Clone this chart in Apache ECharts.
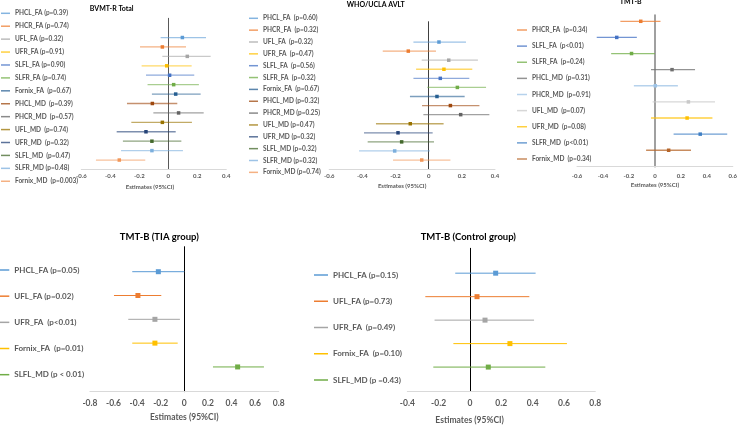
<!DOCTYPE html>
<html>
<head>
<meta charset="utf-8">
<script src="https://cdn.jsdelivr.net/npm/echarts@6/dist/echarts.min.js"></script>
<style>
  html, body { margin: 0; padding: 0; background: #fff; }
  #panel { width: 740px; height: 426px; }
</style>
</head>
<body>
<div id="panel"></div>
<script>
// BVMT-R Total
const bvmtLabels = ["PHCL_FA (p=0.39)", "PHCR_FA (p=0.74)", "UFL_FA (p=0.32)", "UFR_FA (p=0.91)", "SLFL_FA (p=0.90)",
  "SLFR_FA (p=0.74)", "Fornix_FA  (p=0.67)", "PHCL_MD  (p=0.39)", "PHCR_MD  (p=0.57)", "UFL_MD  (p=0.74)",
  "UFR_MD  (p=0.32)", "SLFL_MD  (p=0.47)", "SLFR_MD (p=0.48)", "Fornix_MD  (p=0.003)"];
const bvmtEst = [0.097, -0.041, 0.131, -0.011, 0.009, 0.037, 0.051, -0.110, 0.071, -0.041, -0.154, -0.113, -0.113, -0.338];
const bvmtLow = [-0.053, -0.195, -0.041, -0.184, -0.154, -0.143, -0.113, -0.285, -0.103, -0.255, -0.356, -0.313, -0.326, -0.499];
const bvmtHigh = [0.260, 0.122, 0.292, 0.161, 0.179, 0.211, 0.223, 0.062, 0.244, 0.163, 0.051, 0.090, 0.101, -0.159];
const bvmtTicks = [-0.6, -0.4, -0.2, 0, 0.2, 0.4];

// WHO/UCLA AVLT
const avltLabels = ["PHCL_FA  (p=0.60)", "PHCR_FA  (p=0.32)", "UFL_FA  (p=0.32)", "UFR_FA  (p=0.47)", "SLFL_FA  (p=0.56)",
  "SLFR_FA  (p=0.32)", "Fornix_FA  (p=0.67)", "PHCL_MD (p=0.32)", "PHCR_MD (p=0.25)", "UFL_MD (p=0.47)",
  "UFR_MD (p=0.32)", "SLFL_MD (p=0.32)", "SLFR_MD (p=0.32)", "Fornix_MD (p=0.74)"];
const avltEst = [0.062, -0.123, 0.121, 0.092, 0.070, 0.173, 0.050, 0.131, 0.193, -0.111, -0.185, -0.163, -0.205, -0.042];
const avltLow = [-0.092, -0.277, -0.042, -0.076, -0.092, -0.008, -0.113, -0.040, -0.032, -0.318, -0.390, -0.368, -0.420, -0.215];
const avltHigh = [0.225, 0.044, 0.297, 0.263, 0.245, 0.346, 0.217, 0.306, 0.366, 0.090, 0.024, 0.032, 0.008, 0.131];
const avltTicks = [-0.6, -0.4, -0.2, 0, 0.2, 0.4];

// TMT-B
const tmtLabels = ["PHCR_FA  (p=0.34)", "SLFL_FA  (p<0.01)", "SLFR_FA  (p=0.24)", "PHCL_MD  (p=0.31)", "PHCR_MD  (p=0.91)",
  "UFL_MD  (p=0.07)", "UFR_MD  (p=0.08)", "SLFR_MD  (p<0.01)", "Fornix_MD  (p=0.34)"];
const tmtEst = [-0.109, -0.294, -0.180, 0.132, 0.003, 0.258, 0.248, 0.349, 0.106];
const tmtLow = [-0.266, -0.448, -0.337, -0.030, -0.162, -0.018, -0.030, 0.144, -0.068];
const tmtHigh = [0.043, -0.139, 0.000, 0.309, 0.177, 0.463, 0.443, 0.557, 0.278];
const tmtTicks = [-0.6, -0.4, -0.2, 0, 0.2, 0.4, 0.6];

// TMT-B (TIA group)
const tiaLabels = ["PHCL_FA (p=0.05)", "UFL_FA (p=0.02)", "UFR_FA  (p<0.01)", "Fornix_FA  (p=0.01)", "SLFL_MD (p < 0.01)"];
const tiaEst = [-0.220, -0.393, -0.249, -0.249, 0.452];
const tiaLow = [-0.441, -0.596, -0.475, -0.441, 0.243];
const tiaHigh = [0.000, -0.195, -0.037, -0.056, 0.675];
const tiaTicks = [-0.8, -0.6, -0.4, -0.2, 0, 0.2, 0.4, 0.6, 0.8];

// TMT-B (Control group)
const ctrlLabels = ["PHCL_FA (p=0.15)", "UFL_FA (p=0.73)", "UFR_FA  (p=0.49)", "Fornix_FA  (p=0.10)", "SLFL_MD (p =0.43)"];
const ctrlEst = [0.164, 0.045, 0.096, 0.255, 0.117];
const ctrlLow = [-0.094, -0.285, -0.226, -0.106, -0.234];
const ctrlHigh = [0.419, 0.379, 0.409, 0.619, 0.481];
const ctrlTicks = [-0.4, -0.2, 0, 0.2, 0.4, 0.6, 0.8];

// colours (Excel palette)
const fullColors = ['#5B9BD5', '#ED7D31', '#A5A5A5', '#FFC000', '#4472C4', '#70AD47', '#255E91',
  '#9E480E', '#636363', '#997300', '#264478', '#43682B', '#7CAFDD', '#F1975A'];
const tmtColors = ['#ED7D31', '#4472C4', '#70AD47', '#6F6F6F', '#9DC3E6', '#C9C9C9', '#FFC000', '#3F7FC4', '#B5652A'];
const groupColors = ['#5B9BD5', '#ED7D31', '#A5A5A5', '#FFC000', '#70AD47'];

const FONT = 'Lato, "Liberation Sans", sans-serif';
const TXT = '#595959';

const panels = [
  {
    key: 'a', title: 'BVMT-R Total', tx: 111.7, ty: 8.3, tSize: 7,
    labels: bvmtLabels, est: bvmtEst, low: bvmtLow, high: bvmtHigh, ticks: bvmtTicks, colors: fullColors,
    grid: {left: 81.3, top: 18.3, width: 145, height: 150.7}, yMin: -2.04, yMax: 13.95,
    zeroColor: '#595959', zeroWidth: 1, lineW: 1.3, box: 3.5, alpha: 0.6,
    labelSize: 6, labelMargin: 4.5, nameGap: 15.5, nameShift: 7.6,
    legend: {left: 1, top: 9.3, lh: 8, gap: 4.92, iw: 9, size: 6.5}
  },
  {
    key: 'b', title: 'WHO/UCLA AVLT', tx: 375.7, ty: 5, tSize: 7,
    labels: avltLabels, est: avltEst, low: avltLow, high: avltHigh, ticks: avltTicks, colors: fullColors,
    grid: {left: 329.2, top: 21.7, width: 165.8, height: 147.6}, yMin: -2.24, yMax: 14.02,
    zeroColor: '#404040', zeroWidth: 1, lineW: 1.3, box: 3.5, alpha: 0.6,
    labelSize: 6, labelMargin: 4.2, nameGap: 13.4, nameShift: 20,
    legend: {left: 249, top: 14.3, lh: 8, gap: 3.85, iw: 9, size: 6.5}
  },
  {
    key: 'c', title: 'TMT-B', tx: 630.7, ty: 2, tSize: 7,
    labels: tmtLabels, est: tmtEst, low: tmtLow, high: tmtHigh, ticks: tmtTicks, colors: tmtColors,
    grid: {left: 577, top: 15, width: 158, height: 151.7}, yMin: -0.39, yMax: 9.02,
    zeroColor: '#808080', zeroWidth: 1.5, lineW: 1.3, box: 3.5, alpha: 0.75,
    labelSize: 6, labelMargin: 6, nameGap: 15.3, nameShift: 0,
    legend: {left: 517, top: 26, lh: 8, gap: 8.125, iw: 10, size: 6.5}
  },
  {
    key: 'd', title: 'TMT-B (TIA group)', tx: 159.3, ty: 236.7, tSize: 9.5,
    labels: tiaLabels, est: tiaEst, low: tiaLow, high: tiaHigh, ticks: tiaTicks, colors: groupColors,
    grid: {left: 89.9, top: 246.7, width: 188.8, height: 145}, yMin: -1.05, yMax: 5.04,
    zeroColor: '#000', zeroWidth: 1, lineW: 1, box: 5, alpha: 1,
    labelSize: 8.5, labelMargin: 7, nameGap: 21.5, nameShift: 0,
    legend: {left: -2.7, top: 264.5, lh: 11, gap: 15.17, iw: 12, size: 8}
  },
  {
    key: 'e', title: 'TMT-B (Control group)', tx: 468.3, ty: 237.3, tSize: 9.5,
    labels: ctrlLabels, est: ctrlEst, low: ctrlLow, high: ctrlHigh, ticks: ctrlTicks, colors: groupColors,
    grid: {left: 407.3, top: 248.3, width: 188, height: 144.4}, yMin: -1.06, yMax: 5.04,
    zeroColor: '#000', zeroWidth: 1, lineW: 1, box: 5, alpha: 1,
    labelSize: 8.5, labelMargin: 6.8, nameGap: 24.5, nameShift: 63.4,
    legend: {left: 314, top: 269.5, lh: 11, gap: 15.25, iw: 14, size: 8}
  }
];

function renderForest(p) {
  return function (params, api) {
    const row = api.value(3);
    const a = api.coord([api.value(0), row]);
    const m = api.coord([api.value(1), row]);
    const b = api.coord([api.value(2), row]);
    const color = api.visual('color');
    return {
      type: 'group',
      children: [
        {type: 'line', shape: {x1: a[0], y1: a[1], x2: b[0], y2: b[1]},
          style: {stroke: color, lineWidth: p.lineW, opacity: p.alpha}},
        {type: 'rect', shape: {x: m[0] - p.box / 2, y: m[1] - p.box / 2, width: p.box, height: p.box},
          style: {fill: color}}
      ]
    };
  };
}

const grid = [], xAxis = [], yAxis = [], title = [], legend = [], series = [];

panels.forEach((p, i) => {
  grid.push(p.grid);
  title.push({
    text: p.title, left: p.tx, top: p.ty, textAlign: 'center', textVerticalAlign: 'middle', padding: 0,
    textStyle: {fontFamily: FONT, fontSize: p.tSize, fontWeight: 'bold', color: '#000'}
  });
  xAxis.push({
    gridIndex: i, type: 'value',
    min: p.ticks[0], max: p.ticks[p.ticks.length - 1], interval: 0.2,
    axisLine: {onZero: false, lineStyle: {color: '#D9D9D9', width: 1}},
    axisTick: {show: false}, splitLine: {show: false},
    axisLabel: {
      margin: p.labelMargin, color: TXT, fontFamily: FONT, fontSize: p.labelSize, fontWeight: 'bold',
      formatter: v => String(Math.round(v * 10) / 10)
    },
    name: 'Estimates (95%CI)', nameLocation: 'middle', nameGap: p.nameGap,
    nameTextStyle: {color: TXT, fontFamily: FONT, fontSize: p.labelSize, fontWeight: 'bold',
      padding: [0, p.nameShift, 0, 0]}
  });
  yAxis.push({
    gridIndex: i, type: 'value', inverse: true, min: p.yMin, max: p.yMax,
    axisLine: {show: true, onZero: true, lineStyle: {color: p.zeroColor, width: p.zeroWidth}},
    axisTick: {show: false}, axisLabel: {show: false}, splitLine: {show: false}
  });
  const names = p.labels.map(l => p.key + '|' + l);
  legend.push({
    orient: 'vertical', left: p.legend.left, top: p.legend.top, padding: 0,
    itemGap: p.legend.gap, itemWidth: p.legend.iw, itemHeight: 1.5, icon: 'rect',
    itemStyle: {opacity: p.alpha < 1 ? 0.75 : 1},
    selectedMode: false, data: names,
    formatter: n => n.split('|')[1],
    textStyle: {fontFamily: FONT, fontSize: p.legend.size, lineHeight: p.legend.lh, color: TXT, fontWeight: 'bold'}
  });
  p.labels.forEach((l, j) => {
    series.push({
      name: names[j], type: 'custom', xAxisIndex: i, yAxisIndex: i,
      itemStyle: {color: p.colors[j]},
      encode: {x: [0, 1, 2], y: 3},
      renderItem: renderForest(p),
      data: [[p.low[j], p.est[j], p.high[j], j]]
    });
  });
});

const chart = echarts.init(document.getElementById('panel'));
chart.setOption({
  backgroundColor: '#fff',
  animation: false,
  title: title,
  grid: grid,
  xAxis: xAxis,
  yAxis: yAxis,
  legend: legend,
  series: series
});
</script>
</body>
</html>
